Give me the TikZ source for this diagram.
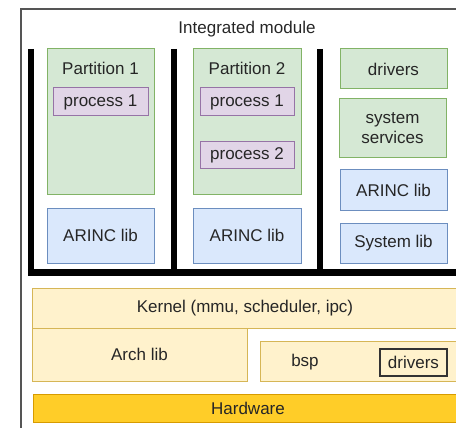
\documentclass[tikz,border=0pt]{standalone}
\usepackage{fontspec}
\setmainfont{Liberation Sans}
\definecolor{gfill}{HTML}{D5E8D4}
\definecolor{gline}{HTML}{82B366}
\definecolor{pfill}{HTML}{E1D5E7}
\definecolor{pline}{HTML}{9673A6}
\definecolor{bfill}{HTML}{DAE8FC}
\definecolor{bline}{HTML}{6C8EBF}
\definecolor{yfill}{HTML}{FFF2CC}
\definecolor{yline}{HTML}{D6B656}
\definecolor{hfill}{HTML}{FFCD28}
\definecolor{hline}{HTML}{D79B00}
\definecolor{frame}{HTML}{555555}
\tikzset{
  every node/.style={font=\fontsize{17}{20}\selectfont, text=black!85, inner sep=0pt, outer sep=0pt},
  box/.style={rectangle, line width=1pt, align=center},
  sz/.style 2 args={minimum width=#1pt, minimum height=#2pt},
  gbox/.style={box, fill=gfill, draw=gline},
  pbox/.style={box, fill=pfill, draw=pline},
  bbox/.style={box, fill=bfill, draw=bline},
  ybox/.style={box, fill=yfill, draw=yline},
  hbox/.style={box, fill=hfill, draw=hline},
  kbox/.style={box, draw=black!80, line width=1.2pt},
  bar/.style={line width=6.5pt, black},
}
\begin{document}
\begin{tikzpicture}[x=1pt,y=-1pt]
\useasboundingbox (0,0) rectangle (456,428);
\clip (0,0) rectangle (456,428);
% outer frame
\draw[frame, line width=1.2pt] (21,440) -- (21,9) -- (480,9);
\node (title) at (247,29) {Integrated module};
% black separators
\coordinate (b1t) at (31,49);
\coordinate (b1b) at (31,276);
\coordinate (b2t) at (174,49);
\coordinate (b2b) at (174,276);
\coordinate (b3t) at (320,49);
\coordinate (b3b) at (320,276);
\coordinate (hl) at (27.75,272.5);
\coordinate (hr) at (470,272.5);
\draw[bar] (b1t) -- (b1b);
\draw[bar] (b2t) -- (b2b);
\draw[bar] (b3t) -- (b3b);
\draw[bar] (hl) -- (hr);
% partition 1
\node[gbox, sz={107}{146}] (p1) at (100.5,122) {};
\node (p1t) at (100.5,68) {Partition 1};
\node[pbox, sz={95}{28}] (p1a) at (100.5,102) {process 1};
\node[bbox, sz={107}{55}] (p1l) at (100.5,235.5) {ARINC lib};
% partition 2
\node[gbox, sz={108}{146}] (p2) at (247,122) {};
\node (p2t) at (247,68) {Partition 2};
\node[pbox, sz={94}{28}] (p2a) at (247,102) {process 1};
\node[pbox, sz={94}{27}] (p2b) at (247,155.5) {process 2};
\node[bbox, sz={108}{55}] (p2l) at (247,235.5) {ARINC lib};
% system partition
\node[gbox, sz={107}{40}] (drv) at (393.5,69) {drivers};
\node[gbox, sz={107}{59}] (svc) at (392.5,128.5) {system\\services};
\node[bbox, sz={107}{40}] (ral) at (393.5,190) {ARINC lib};
\node[bbox, sz={107}{40}] (sl) at (393.5,243) {System lib};
% kernel layer
\node[ybox, sz={426}{40}] (ker) at (245,308) {Kernel (mmu, scheduler, ipc)};
\node[ybox, sz={215}{53}] (arch) at (139.5,354.5) {Arch lib};
\node[ybox, sz={210}{40}, anchor=west] (bsp) at (260,361) {};
\node (bspt) at (305,362) {bsp};
\node[kbox, sz={67}{27}] (bdrv) at (413.5,362.5) {drivers};
\node[hbox, sz={430}{28}] (hw) at (248,408) {Hardware};
\end{tikzpicture}
\end{document}
